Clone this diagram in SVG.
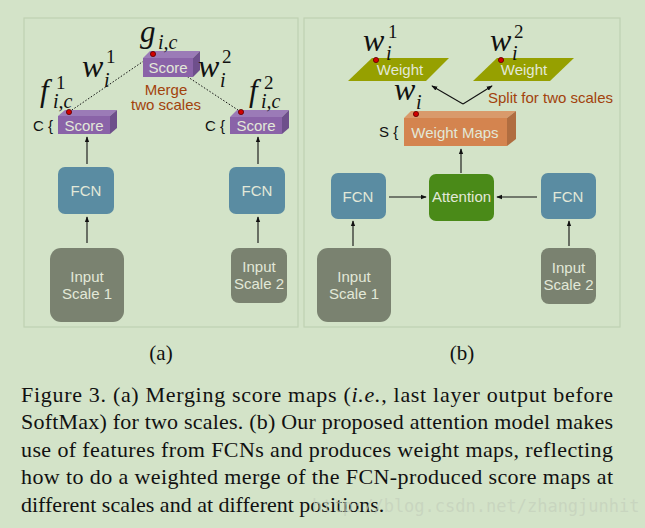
<svg xmlns="http://www.w3.org/2000/svg" width="645" height="528" viewBox="0 0 645 528">
<defs>
<marker id="ah" viewBox="0 0 8 8" refX="7" refY="4" markerWidth="6" markerHeight="6" orient="auto" markerUnits="userSpaceOnUse">
<path d="M0,1 L8,4 L0,7 Z" fill="#111"/>
</marker>
<style>
.panel{fill:none;stroke:#bfd1b2;stroke-width:1.2}
.sans{font-family:"Liberation Sans",Arial,sans-serif}
.math{font-family:"Liberation Serif","Times New Roman",serif;font-style:italic;fill:#111}
.num{font-family:"Liberation Serif","Times New Roman",serif;fill:#111}
.cap{font-family:"Liberation Serif","Times New Roman",serif;font-size:22px;fill:#111}
.sf{fill:#8a63a8}.st{fill:#9b7bb7}.ss{fill:#6e4f8b}
.fcn{fill:#5a8ca2}
.inp{fill:#7a8270}
.att{fill:#4a8a18}
.wgt{fill:#96a000}
.wf{fill:#d4844f}.wt{fill:#d99a6b}.ws{fill:#b06d40}
.lt{fill:#e2e8d8;font-size:15px;text-anchor:middle}
.br{fill:#a2420c;font-size:15px}
.dot{fill:#d10000;stroke:#5a0000;stroke-width:0.8}
.conn{stroke:#111;stroke-width:1.1;fill:none;marker-end:url(#ah)}
.dash{stroke:#111;stroke-width:1;fill:none;stroke-dasharray:1.5 1.8;marker-end:url(#ah)}
.brace{font-size:15px;fill:#111}
</style>
</defs>
<rect width="645" height="528" fill="#d3e3c8"/>
<rect class="panel" x="24" y="18" width="274" height="309"/>
<rect class="panel" x="304" y="18" width="316" height="309"/>

<g id="connectors">
<line class="dash" x1="69" y1="112" x2="151" y2="56"/>
<line class="dash" x1="241" y1="112" x2="156" y2="56"/>
<line class="conn" x1="87" y1="164" x2="87" y2="137"/>
<line class="conn" x1="258" y1="164" x2="258" y2="137"/>
<line class="conn" x1="87" y1="243" x2="87" y2="217"/>
<line class="conn" x1="258" y1="243" x2="258" y2="217"/>
<line class="conn" x1="353" y1="246" x2="353" y2="221"/>
<line class="conn" x1="569" y1="246" x2="569" y2="221"/>
<line class="conn" x1="389" y1="197" x2="426" y2="197"/>
<line class="conn" x1="537" y1="197" x2="497" y2="197"/>
<line class="conn" x1="461" y1="173" x2="461" y2="149"/>
<line class="conn" x1="463" y1="104" x2="432" y2="86"/>
<line class="conn" x1="463" y1="104" x2="492" y2="86"/>
</g>

<!-- Panel (a) -->
<g id="score-left">
<polygon class="st" points="58,116 65,110 117,110 110,116"/>
<polygon class="ss" points="110,116 117,110 117,128 110,134"/>
<rect class="sf" x="58" y="116" width="52" height="18"/>
<text class="sans lt" x="84" y="131">Score</text>
<text class="sans brace" x="33" y="131">C {</text>
<circle class="dot" cx="69" cy="112" r="2.6"/>
</g>
<g id="score-center">
<polygon class="st" points="143,58 150,51 200,51 193,58"/>
<polygon class="ss" points="193,58 200,51 200,70 193,77"/>
<rect class="sf" x="143" y="58" width="50" height="19"/>
<text class="sans lt" x="168" y="73">Score</text>
<circle class="dot" cx="153" cy="54" r="2.6"/>
</g>
<g id="score-right">
<polygon class="st" points="230,117 237,110 289,110 282,117"/>
<polygon class="ss" points="282,117 289,110 289,128 282,134"/>
<rect class="sf" x="230" y="117" width="52" height="17"/>
<text class="sans lt" x="256" y="131">Score</text>
<text class="sans brace" x="205" y="131">C {</text>
<circle class="dot" cx="241" cy="112" r="2.6"/>
</g>
<g id="merge-label">
<text class="sans br" x="166" y="95" text-anchor="middle">Merge</text>
<text class="sans br" x="166" y="110" text-anchor="middle">two scales</text>
</g>
<g id="math-a">
<text class="math" x="140" y="42" font-size="31">g</text>
<text class="math" x="158" y="49" font-size="20">i,c</text>
<text class="math" x="82" y="77" font-size="32">w</text>
<text class="num" x="106" y="63" font-size="19">1</text>
<text class="math" x="104" y="87" font-size="20">i</text>
<text class="math" x="198" y="77" font-size="32">w</text>
<text class="num" x="222" y="63" font-size="19">2</text>
<text class="math" x="220" y="87" font-size="20">i</text>
<text class="math" x="40" y="101" font-size="31">f</text>
<text class="num" x="56" y="89" font-size="19">1</text>
<text class="math" x="53" y="108" font-size="20">i,c</text>
<text class="math" x="249" y="101" font-size="31">f</text>
<text class="num" x="264" y="89" font-size="19">2</text>
<text class="math" x="261" y="108" font-size="20">i,c</text>
</g>
<g id="fcn-a1">
<rect class="fcn" x="58" y="167" width="56" height="47" rx="7"/>
<text class="sans lt" x="86" y="196">FCN</text>
</g>
<g id="fcn-a2">
<rect class="fcn" x="229" y="167" width="56" height="47" rx="7"/>
<text class="sans lt" x="257" y="196">FCN</text>
</g>
<g id="input-a1">
<rect class="inp" x="50" y="248" width="74" height="74" rx="11"/>
<text class="sans lt" x="87" y="282">Input</text>
<text class="sans lt" x="87" y="299">Scale 1</text>
</g>
<g id="input-a2">
<rect class="inp" x="231" y="248" width="56" height="55" rx="8"/>
<text class="sans lt" x="259" y="272">Input</text>
<text class="sans lt" x="259" y="289">Scale 2</text>
</g>

<!-- Panel (b) -->
<g id="weight-1">
<polygon class="wgt" points="372,58 449,58 426,81 348,81"/>
<text class="sans lt" x="400" y="75">Weight</text>
<circle class="dot" cx="376" cy="60" r="2.6"/>
</g>
<g id="weight-2">
<polygon class="wgt" points="497,58 574,58 550,81 473,81"/>
<text class="sans lt" x="524" y="75">Weight</text>
<circle class="dot" cx="501" cy="60" r="2.6"/>
</g>
<g id="math-b">
<text class="math" x="363" y="51" font-size="32">w</text>
<text class="num" x="388" y="38" font-size="19">1</text>
<text class="math" x="386" y="60" font-size="20">i</text>
<text class="math" x="490" y="51" font-size="32">w</text>
<text class="num" x="514" y="38" font-size="19">2</text>
<text class="math" x="512" y="60" font-size="20">i</text>
<text class="math" x="394" y="100" font-size="32">w</text>
<text class="math" x="416" y="109" font-size="20">i</text>
</g>
<g id="split-label">
<text class="sans br" x="488" y="103">Split for two scales</text>
</g>
<g id="weight-maps">
<polygon class="wt" points="404,118 411,111 516,111 507,118"/>
<polygon class="ws" points="507,118 516,111 516,139 507,146"/>
<rect class="wf" x="404" y="118" width="103" height="28"/>
<text class="sans lt" x="455" y="138">Weight Maps</text>
<text class="sans brace" x="379" y="137">S {</text>
<circle class="dot" cx="416" cy="114" r="2.6"/>
</g>
<g id="fcn-b1">
<rect class="fcn" x="331" y="173" width="55" height="46" rx="7"/>
<text class="sans lt" x="358" y="202">FCN</text>
</g>
<g id="attention">
<rect class="att" x="429" y="174" width="65" height="47" rx="7"/>
<text class="sans lt" x="461.5" y="202">Attention</text>
</g>
<g id="fcn-b2">
<rect class="fcn" x="541" y="173" width="55" height="46" rx="7"/>
<text class="sans lt" x="568" y="202">FCN</text>
</g>
<g id="input-b1">
<rect class="inp" x="317" y="248" width="74" height="74" rx="11"/>
<text class="sans lt" x="354" y="282">Input</text>
<text class="sans lt" x="354" y="299">Scale 1</text>
</g>
<g id="input-b2">
<rect class="inp" x="541" y="248" width="55" height="56" rx="8"/>
<text class="sans lt" x="568.5" y="273">Input</text>
<text class="sans lt" x="568.5" y="290">Scale 2</text>
</g>

<text class="num" x="161" y="360" font-size="21" text-anchor="middle">(a)</text>
<text class="num" x="462" y="360" font-size="21" text-anchor="middle">(b)</text>

<g id="caption">
<text class="cap" x="21" y="402" textLength="592" lengthAdjust="spacing">Figure 3. (a) Merging score maps (<tspan font-style="italic">i.e.</tspan>, last layer output before</text>
<text class="cap" x="21" y="429" textLength="592" lengthAdjust="spacing">SoftMax) for two scales. (b) Our proposed attention model makes</text>
<text class="cap" x="21" y="457" textLength="592" lengthAdjust="spacing">use of features from FCNs and produces weight maps, reflecting</text>
<text class="cap" x="21" y="484" textLength="592" lengthAdjust="spacing">how to do a weighted merge of the FCN-produced score maps at</text>
<text class="cap" x="21" y="512">different scales and at different positions.</text>
<text x="312" y="512" font-family="'DejaVu Sans Mono','Liberation Mono',monospace" font-size="17" fill="#c3cfbb" fill-opacity="0.7">http://blog.csdn.net/zhangjunhit</text>
</g>
</svg>
